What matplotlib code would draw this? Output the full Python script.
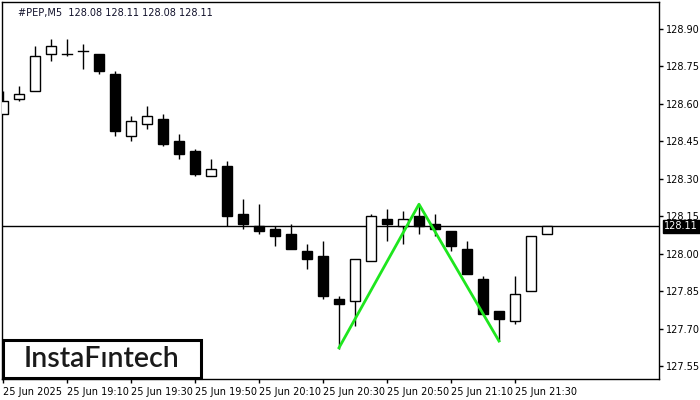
import matplotlib
matplotlib.use("Agg")
import matplotlib.pyplot as plt
import matplotlib.patches as patches

# OHLC of the M5 bars (first bar 18:50)
opens = [128.56, 128.62, 128.65, 128.80, 128.80, 128.81, 128.80, 128.72, 128.47, 128.52,
         128.54, 128.45, 128.41, 128.31, 128.35, 128.16, 128.11, 128.10, 128.08, 128.01,
         127.99, 127.82, 127.81, 127.97, 128.14, 128.11, 128.15, 128.12, 128.09, 128.02,
         127.90, 127.77, 127.73, 127.85, 128.08]
highs = [128.65, 128.67, 128.83, 128.86, 128.86, 128.84, 128.80, 128.73, 128.55, 128.59,
         128.56, 128.48, 128.42, 128.38, 128.37, 128.22, 128.20, 128.11, 128.12, 128.04,
         128.05, 127.83, 127.98, 128.16, 128.18, 128.17, 128.19, 128.16, 128.09, 128.05,
         127.91, 127.77, 127.91, 128.07, 128.11]
lows = [128.56, 128.61, 128.65, 128.77, 128.79, 128.74, 128.72, 128.47, 128.45, 128.50,
        128.43, 128.38, 128.31, 128.31, 128.11, 128.10, 128.08, 128.03, 128.02, 127.94,
        127.82, 127.62, 127.71, 127.97, 128.05, 128.04, 128.08, 128.07, 128.01, 127.92,
        127.76, 127.65, 127.72, 127.85, 128.08]
closes = [128.61, 128.64, 128.79, 128.83, 128.80, 128.81, 128.73, 128.49, 128.53, 128.55,
          128.44, 128.40, 128.32, 128.34, 128.15, 128.12, 128.09, 128.07, 128.02, 127.98,
          127.83, 127.80, 127.98, 128.15, 128.12, 128.14, 128.11, 128.10, 128.03, 127.92,
          127.76, 127.74, 127.84, 128.07, 128.11]

# double bottom pattern: (bar index, price)
pattern_x = [21, 26, 31]
pattern_y = [127.623, 128.198, 127.650]

last_price = 128.11
title = "#PEP,M5  128.08 128.11 128.08 128.11"
x_labels = ["25 Jun 2025", "25 Jun 19:10", "25 Jun 19:30", "25 Jun 19:50", "25 Jun 20:10",
            "25 Jun 20:30", "25 Jun 20:50", "25 Jun 21:10", "25 Jun 21:30"]
y_ticks = [127.55, 127.70, 127.85, 128.00, 128.15, 128.30, 128.45, 128.60, 128.75, 128.90]

fig = plt.figure(figsize=(7, 4), dpi=100)
ax = fig.add_axes([2 / 700, 21 / 400, 657 / 700, 377 / 400])

w = 0.66
for i, (o, h, l, c) in enumerate(zip(opens, highs, lows, closes)):
    ax.plot([i, i], [l, h], color="black", lw=1, zorder=2, solid_capstyle="butt")
    bottom = min(o, c)
    height = abs(c - o)
    if height < 0.004:
        ax.plot([i - w / 2, i + w / 2], [o, o], color="black", lw=1, zorder=3)
        continue
    face = "white" if c > o else "black"
    ax.add_patch(patches.Rectangle((i - w / 2, bottom), w, height, facecolor=face,
                                   edgecolor="black", lw=1, zorder=3))

ax.axhline(last_price, color="black", lw=1, zorder=1)
ax.plot(pattern_x, pattern_y, color="#1ee61e", lw=2, zorder=4)

ax.set_xlim(-0.0625, 41.0)
ax.set_ylim(127.498, 129.008)

ax.set_xticks(range(0, 4 * len(x_labels), 4))
ax.set_xticklabels(x_labels, ha="left", fontsize=7)
ax.set_yticks(y_ticks)
ax.set_yticklabels([f"{v:.2f}" for v in y_ticks], fontsize=7)
ax.yaxis.tick_right()
ax.tick_params(axis="both", length=3, width=1, pad=2)
ax.tick_params(axis="x", pad=3)
for s in ax.spines.values():
    s.set_linewidth(1)

ax.text(0.025, 0.985, title, transform=ax.transAxes, fontsize=7, va="top", ha="left",
        color="#10102a")

# last price tag
ax.text(1.008, last_price, f"{last_price:.2f}", transform=ax.get_yaxis_transform(),
        fontsize=7, color="white", va="center", ha="left",
        bbox=dict(facecolor="black", edgecolor="black", pad=1.2))

# logo
logo = patches.Rectangle((3 / 700, 22 / 400), 198 / 700, 38 / 400, transform=fig.transFigure,
                         facecolor="white", edgecolor="black", lw=2.2, zorder=10)
fig.patches.append(logo)
fig.text(102 / 700, 41 / 400, "InstaF\u0131ntech", fontsize=20.5, color="#1a1a1a",
         ha="center", va="center", family="Lato", fontweight="semibold", zorder=11)

fig.savefig("out.png", dpi=100)
